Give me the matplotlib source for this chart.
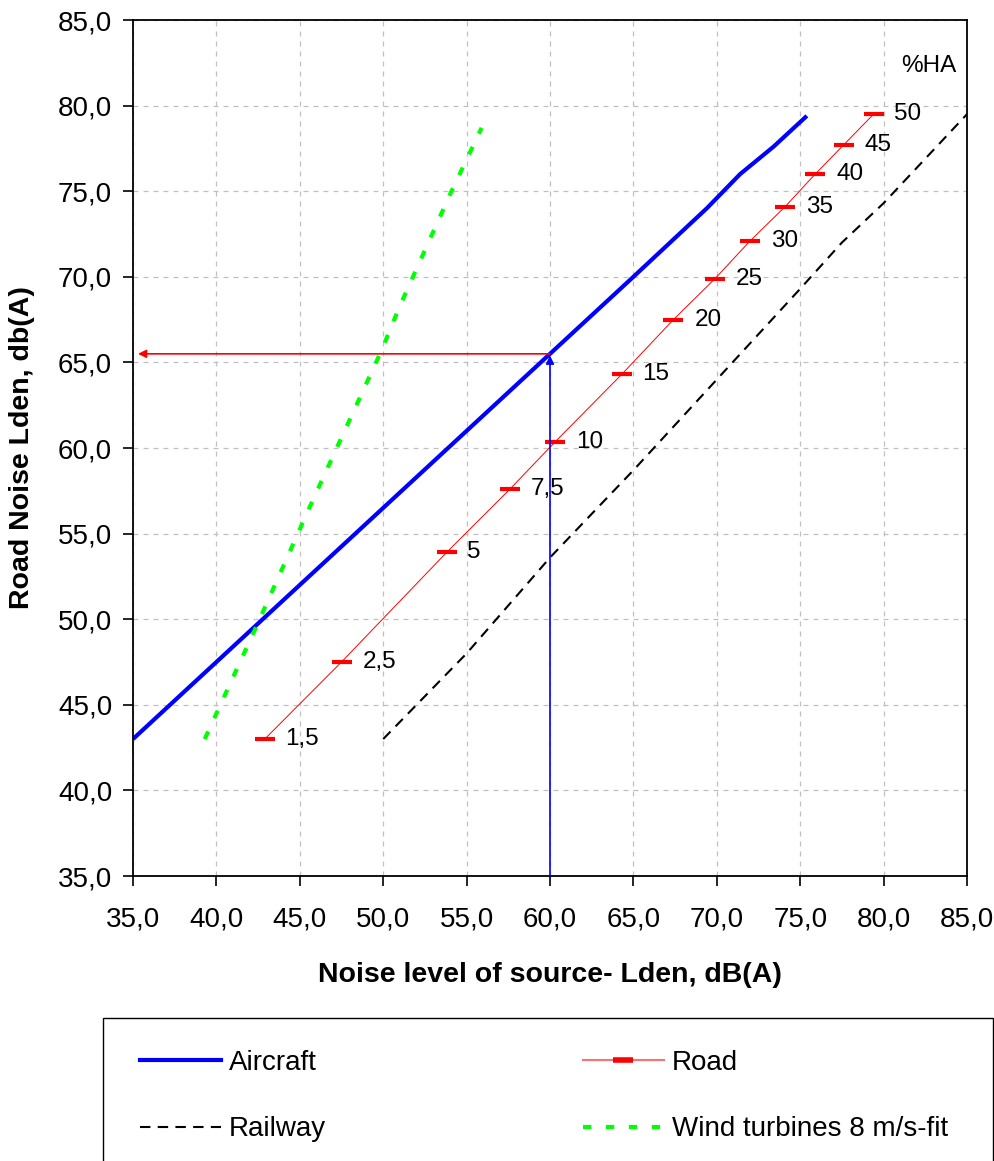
import matplotlib
matplotlib.use('Agg')
import matplotlib.pyplot as plt
from matplotlib.lines import Line2D
from matplotlib.patches import Rectangle

plt.rcParams['font.family'] = ['Liberation Sans', 'DejaVu Sans']

# --- data ---
aircraft_x = [35.0, 40.0, 45.0, 50.0, 55.0, 60.0, 65.0, 69.4, 71.4, 73.4, 75.4]
aircraft_y = [43.0, 47.5, 52.0, 56.5, 61.0, 65.5, 70.0, 74.0, 76.0, 77.6, 79.4]

road_x = [42.9, 47.5, 53.8, 57.6, 60.3, 64.3, 67.4, 69.9, 72.0, 74.1, 75.9, 77.6, 79.4]
road_y = [43.0, 47.5, 53.9, 57.6, 60.35, 64.3, 67.5, 69.9, 72.1, 74.1, 76.0, 77.7, 79.5]
road_ha = ['1,5', '2,5', '5', '7,5', '10', '15', '20', '25', '30', '35', '40', '45', '50']

rail_x = [50.0, 55.0, 60.0, 65.0, 70.0, 75.0, 77.5, 80.0, 85.0]
rail_y = [43.0, 48.0, 53.6, 58.7, 64.0, 69.3, 72.0, 74.3, 79.5]

wind_x = [39.3, 42.5, 45.8, 49.9, 51.0, 54.0, 55.9]
wind_y = [43.0, 49.8, 57.0, 65.7, 68.3, 74.8, 78.7]

read_x = 60.0    # source level read-off
read_y = 65.5    # equivalent road level

ticks = [35, 40, 45, 50, 55, 60, 65, 70, 75, 80, 85]
tick_labels = ['35,0', '40,0', '45,0', '50,0', '55,0', '60,0',
               '65,0', '70,0', '75,0', '80,0', '85,0']

# --- figure ---
W, H = 995, 1161
fig = plt.figure(figsize=(W / 100, H / 100), dpi=100)
ax = fig.add_axes([133 / W, 1 - 876 / H, 834 / W, 856 / H])

ax.set_xlim(35, 85)
ax.set_ylim(35, 85)
ax.set_xticks(ticks)
ax.set_yticks(ticks)
ax.set_xticklabels(tick_labels)
ax.set_yticklabels(tick_labels)
ax.tick_params(axis='both', direction='out', length=7, width=1.2, labelsize=20)
ax.tick_params(axis='x', pad=15)
ax.tick_params(axis='y', pad=8)
ax.grid(True, color='#c0c0c0', linestyle=(0, (4, 4)), linewidth=0.9)
ax.set_axisbelow(True)
for sp in ax.spines.values():
    sp.set_linewidth(1.3)

# read-off arrows
ax.annotate('', xy=(read_x, read_y - 0.1), xytext=(read_x, 35),
            arrowprops=dict(arrowstyle='-|>', color='#0000ff', lw=1.2,
                            mutation_scale=12, shrinkA=0, shrinkB=0))
ax.annotate('', xy=(35.3, read_y), xytext=(read_x, read_y),
            arrowprops=dict(arrowstyle='-|>', color='#ff0000', lw=1.2,
                            mutation_scale=12, shrinkA=0, shrinkB=0))

ax.plot(aircraft_x, aircraft_y, color='#0000ff', lw=3, solid_capstyle='butt')
ax.plot(rail_x, rail_y, color='black', lw=1.5, linestyle=(0, (5, 3.5)))
ax.plot(wind_x, wind_y, color='#00ff00', lw=3, linestyle=(0, (2, 3.5)))
ax.plot(road_x, road_y, color='#ff0000', lw=0.7, marker='_', markersize=14,
        markeredgewidth=3)

for x, y, s in zip(road_x, road_y, road_ha):
    ax.annotate(s, (x, y), xytext=(15, 0), textcoords='offset points',
                ha='left', va='center', fontsize=17.5)

ax.text(82.7, 82.3, '%HA', ha='center', va='center', fontsize=17.5)

ax.set_xlabel('Noise level of source- Lden, dB(A)', fontsize=20.5,
              fontweight='bold')
ax.set_ylabel('Road Noise Lden, db(A)', fontsize=20.5, fontweight='bold')
ax.xaxis.set_label_coords(0.5, -0.1)
ax.yaxis.set_label_coords(-0.118, 0.5)

# legend box (runs off the bottom edge, as in the original)
fig.patches.append(Rectangle((103 / W, -0.02), 890 / W, 0.02 + 1 - 1018 / H,
                             transform=fig.transFigure, facecolor='white',
                             edgecolor='black', lw=1.0, zorder=0))

# column-first fill: Aircraft/Railway left, Road/Wind right
handles = [
    Line2D([], [], color='#0000ff', lw=3),
    Line2D([], [], color='black', lw=1.5, linestyle=(0, (5, 3.5))),
    Line2D([], [], color='#ff7070', lw=1.5, marker='_', markersize=14,
           markeredgewidth=4, markeredgecolor='#ff0000'),
    Line2D([], [], color='#00ff00', lw=3, linestyle=(0, (2, 3.5))),
]
labels = ['Aircraft', 'Railway', 'Road', 'Wind turbines 8 m/s-fit']

leg = fig.legend(handles, labels, ncol=2, loc='upper left',
                 bbox_to_anchor=(140 / W, 1 - 1050 / H),
                 fontsize=20, handlelength=2.9, handletextpad=0.3,
                 labelspacing=1.45, columnspacing=9.25, borderpad=0,
                 borderaxespad=0, frameon=False)

fig.savefig('out.png', dpi=100)
